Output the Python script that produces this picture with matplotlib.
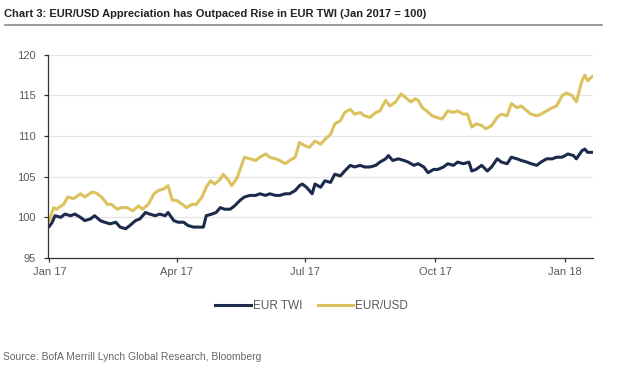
import numpy as np
import matplotlib.pyplot as plt

# ---------------------- data (days after 1 Jan 2017, index Jan 2017 = 100)

usd_days = [0, 3, 5, 10, 13, 17, 22, 25, 30, 33, 37, 41, 44, 48, 51, 55, 59, 63, 66, 70,
            74, 77, 81, 84, 87, 90, 94, 97, 101, 104, 108, 111, 114, 117, 121, 123, 127, 129,
            133, 135, 138, 142, 146, 149, 153, 156, 160, 163, 167, 170, 174, 177, 181, 184,
            188, 192, 195, 199, 202, 206, 209, 213, 216, 220, 223, 227, 231, 234, 238, 241,
            245, 249, 253, 256, 259, 261, 264, 267, 271, 274, 278, 282, 286, 289, 293, 296,
            299, 302, 306, 309, 313, 317, 320, 324, 327, 331, 334, 338, 341, 345, 348, 352,
            356, 359, 363, 366, 370, 373, 377, 379, 381, 384, 386]
usd_vals = [99.6, 101.2, 101.0, 101.6, 102.5, 102.3, 102.9, 102.5, 103.1, 103.0, 102.5, 101.6,
            101.6, 101.0, 101.2, 101.2, 100.8, 101.4, 101.0, 101.6, 102.9, 103.3, 103.5, 103.9,
            102.1, 102.1, 101.6, 101.2, 101.6, 101.6, 102.5, 103.7, 104.5, 104.1, 104.7, 105.3,
            104.5, 103.9, 104.9, 105.9, 107.4, 107.2, 107.0, 107.4, 107.8, 107.4, 107.2, 107.0,
            106.6, 107.0, 107.4, 109.2, 108.8, 108.6, 109.4, 109.0, 109.6, 110.2, 111.5, 111.9,
            112.9, 113.3, 112.7, 112.9, 112.5, 112.3, 112.9, 113.1, 114.4, 113.7, 114.2, 115.2,
            114.6, 114.2, 114.6, 114.4, 113.5, 113.1, 112.5, 112.3, 112.1, 113.1, 112.9, 113.1,
            112.7, 112.7, 111.1, 111.5, 111.3, 110.9, 111.3, 112.3, 112.7, 112.5, 114.0, 113.5,
            113.7, 113.1, 112.7, 112.5, 112.7, 113.1, 113.5, 113.7, 115.0, 115.3, 115.0, 114.2,
            116.8, 117.5, 116.8, 117.3, 117.5]

twi_days = [0, 2, 4, 8, 11, 15, 18, 22, 25, 29, 32, 36, 39, 43, 47, 50, 54, 57, 61, 64,
            68, 71, 75, 78, 82, 84, 88, 91, 95, 98, 102, 105, 109, 111, 115, 118, 121, 124,
            128, 131, 135, 138, 142, 146, 149, 153, 156, 160, 163, 167, 170, 174, 177,
            179, 182, 186, 188, 192, 195, 199, 202, 206, 209, 213, 216, 220, 223, 227, 231,
            234, 238, 240, 243, 247, 251, 254, 258, 261, 265, 268, 272, 275, 279, 282, 286,
            289, 293, 297, 299, 302, 306, 310, 313, 317, 320, 324, 327, 331, 334, 338, 341,
            345, 348, 352, 356, 359, 363, 367, 371, 373, 377, 379, 381, 385, 387]
twi_vals = [98.9, 99.4, 100.2, 100.0, 100.4, 100.2, 100.4, 100.0, 99.6, 99.8, 100.2, 99.6,
            99.4, 99.2, 99.4, 98.8, 98.6, 99.0, 99.6, 99.8, 100.6, 100.4, 100.2, 100.4, 100.2,
            100.6, 99.6, 99.4, 99.4, 99.0, 98.8, 98.8, 98.8, 100.2, 100.4, 100.6, 101.2, 101.0,
            101.0, 101.4, 102.1, 102.5, 102.7, 102.7, 102.9, 102.7, 102.9, 102.7, 102.7, 102.9,
            102.9, 103.3, 103.9,
            104.1, 103.7, 102.9, 104.1, 103.7, 104.5, 104.3, 105.3, 105.1, 105.7, 106.4, 106.2,
            106.4, 106.2, 106.2, 106.4, 106.8, 107.2, 107.6, 107.0, 107.2, 107.0, 106.8, 106.4,
            106.6, 106.2, 105.5, 105.9, 105.9, 106.2, 106.6, 106.4, 106.8, 106.6, 106.8, 105.7,
            105.9, 106.4, 105.7, 106.2, 107.2, 106.8, 106.6, 107.4, 107.2, 107.0, 106.8, 106.6,
            106.4, 106.8, 107.2, 107.2, 107.4, 107.4, 107.8, 107.6, 107.2, 108.2, 108.4, 108.0,
            108.0, 107.8]

start = np.datetime64('2017-01-01')
usd_dates = start + np.array(usd_days, dtype='timedelta64[D]')
twi_dates = start + np.array(twi_days, dtype='timedelta64[D]')

tick_dates = np.array(['2017-01-01', '2017-04-01', '2017-07-01', '2017-10-01', '2018-01-01'],
                      dtype='datetime64[D]')
tick_labels = ['Jan 17', 'Apr 17', 'Jul 17', 'Oct 17', 'Jan 18']

# ---------------------- styling

navy = '#1c2b4b'
gold = '#dcc25e'
grey_text = '#5a5a5a'
plt.rcParams['font.family'] = ['Liberation Sans', 'DejaVu Sans']

fig = plt.figure(figsize=(6.4, 3.68), dpi=100)
ax = fig.add_axes([0.075, 0.299, 0.852, 0.552])

ax.plot(twi_dates, twi_vals, color=navy, linewidth=2.2, label='EUR TWI')
ax.plot(usd_dates, usd_vals, color=gold, linewidth=2.2, label='EUR/USD')

ax.set_ylim(95, 120)
ax.set_yticks([95, 100, 105, 110, 115, 120])
ax.set_xlim(np.datetime64('2016-12-31'), np.datetime64('2018-01-21'))
ax.set_xticks(tick_dates)
ax.set_xticklabels(tick_labels)

ax.grid(axis='y', color='#e4e4e4', linewidth=0.9)
ax.set_axisbelow(True)
for side in ['top', 'right']:
    ax.spines[side].set_visible(False)
for side in ['left', 'bottom']:
    ax.spines[side].set_color('#333333')
    ax.spines[side].set_linewidth(0.9)
ax.tick_params(axis='both', colors='#333333', labelcolor=grey_text, labelsize=8,
               length=3, width=0.9, direction='out')
ax.tick_params(axis='y', pad=6)

ax.legend(loc='center', bbox_to_anchor=(0.487, 0.168), bbox_transform=fig.transFigure,
          ncol=2, frameon=False, fontsize=8.5, handlelength=3.0, handletextpad=0.2,
          columnspacing=1.3, labelcolor=grey_text)

fig.text(0.006, 0.963, 'Chart 3: EUR/USD Appreciation has Outpaced Rise in EUR TWI (Jan 2017 = 100)',
         fontsize=8, fontweight='bold', color='#222222', va='center', ha='left')
fig.add_artist(plt.Line2D([0.008, 0.94], [0.932, 0.932], transform=fig.transFigure,
                          color='#8a8a8a', linewidth=1.2))
fig.text(0.005, 0.03, 'Source: BofA Merrill Lynch Global Research, Bloomberg',
         fontsize=7.5, color='#666666', va='center', ha='left')

fig.savefig('out.png', dpi=100)
